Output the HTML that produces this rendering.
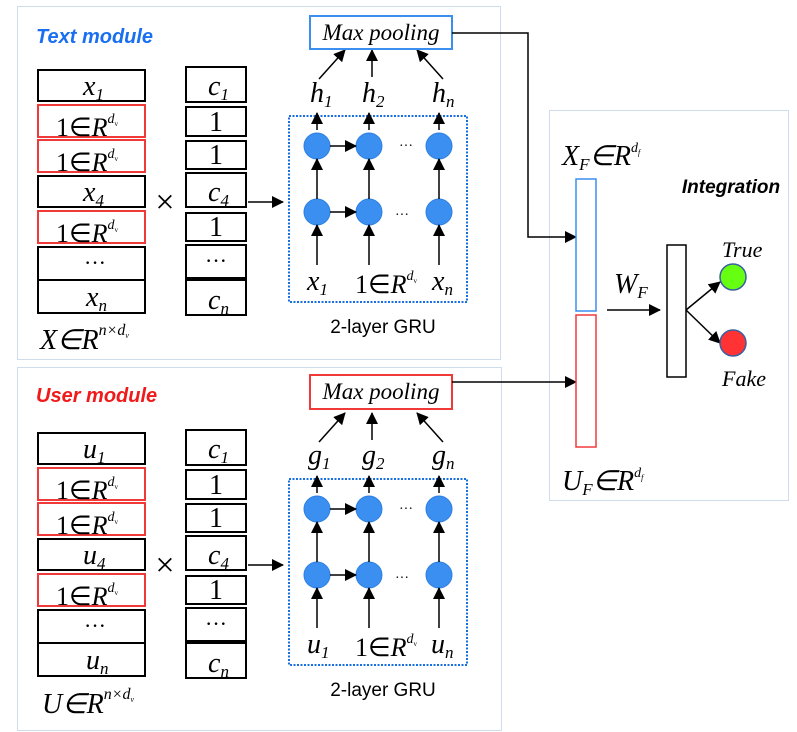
<!DOCTYPE html>
<html><head><meta charset="utf-8"><style>
html,body{margin:0;padding:0;background:#fff;}
svg{display:block;}
.m{font-family:"Liberation Serif",serif;font-style:italic;fill:#000;}
.n{font-family:"Liberation Serif",serif;fill:#000;}
.s{font-family:"Liberation Sans",sans-serif;}
</style></head><body>
<svg width="797" height="732" viewBox="0 0 797 732" xmlns="http://www.w3.org/2000/svg">
<defs>
<marker id="a" markerWidth="12" markerHeight="12" refX="11" refY="6" orient="auto" markerUnits="userSpaceOnUse"><path d="M0,0 L12,6 L0,12 z" fill="#000"/></marker>
<g id="gru">
  <rect x="289" y="116" width="178" height="186" fill="none" stroke="#1a6fe0" stroke-width="2" stroke-dasharray="2,1.5"/>
  <g fill="#3a8ff0" stroke="#2d7fe0">
    <circle cx="317" cy="146" r="13"/><circle cx="369" cy="146" r="13"/><circle cx="439" cy="146" r="13"/>
    <circle cx="317" cy="212" r="13"/><circle cx="369" cy="212" r="13"/><circle cx="439" cy="212" r="13"/>
  </g>
  <g stroke="#000" stroke-width="1.5" marker-end="url(#a)">
    <line x1="330" y1="146" x2="356" y2="146"/><line x1="330" y1="212" x2="356" y2="212"/>
    <line x1="317" y1="199" x2="317" y2="159"/><line x1="369" y1="199" x2="369" y2="159"/><line x1="439" y1="199" x2="439" y2="159"/>
    <line x1="317" y1="265" x2="317" y2="225"/><line x1="369" y1="265" x2="369" y2="225"/><line x1="439" y1="265" x2="439" y2="225"/>
    <line x1="317" y1="130" x2="317" y2="113"/><line x1="369" y1="130" x2="369" y2="113"/><line x1="439" y1="130" x2="439" y2="113"/>
    <line x1="319" y1="79" x2="345" y2="50"/><line x1="372" y1="77" x2="372" y2="50"/><line x1="443" y1="79" x2="417" y2="50"/>
    <line x1="248" y1="202" x2="283" y2="202"/>
  </g>
  <text x="406" y="150" class="n" font-size="14" text-anchor="middle">···</text>
  <text x="402" y="219" class="n" font-size="14" text-anchor="middle">···</text>
  <text x="383" y="333" class="s" font-size="19" text-anchor="middle" fill="#000">2-layer GRU</text>
  <text x="386" y="293" class="n" font-size="26" text-anchor="middle">1∈<tspan class="m">R</tspan><tspan class="m" font-size="14" dy="-13">d</tspan><tspan font-size="7" dy="3">v</tspan></text>
  <g stroke="#000" stroke-width="2" fill="#fff">
    <rect x="38" y="70" width="107" height="31"/>
    <rect x="38" y="176" width="107" height="31"/>
    <rect x="38" y="247" width="107" height="33"/>
    <rect x="38" y="280" width="107" height="33"/>
    <rect x="186" y="67" width="60" height="35"/>
    <rect x="186" y="107" width="60" height="29"/>
    <rect x="186" y="141" width="60" height="28"/>
    <rect x="186" y="173" width="60" height="34"/>
    <rect x="186" y="213" width="60" height="28"/>
    <rect x="186" y="245" width="60" height="33"/>
    <rect x="186" y="280" width="60" height="35"/>
  </g>
  <g stroke="#f03a3a" stroke-width="2" fill="#fff">
    <rect x="38" y="105" width="107" height="32"/>
    <rect x="38" y="140" width="107" height="32"/>
    <rect x="38" y="211" width="107" height="32"/>
  </g>
  <g class="n" font-size="26">
    <text x="56" y="136">1∈<tspan class="m">R</tspan><tspan class="m" font-size="14" dy="-13">d</tspan><tspan font-size="7" dy="3">v</tspan></text>
    <text x="56" y="171">1∈<tspan class="m">R</tspan><tspan class="m" font-size="14" dy="-13">d</tspan><tspan font-size="7" dy="3">v</tspan></text>
    <text x="56" y="242">1∈<tspan class="m">R</tspan><tspan class="m" font-size="14" dy="-13">d</tspan><tspan font-size="7" dy="3">v</tspan></text>
    <text x="95" y="270" text-anchor="middle" font-size="22">···</text>
    <text x="216" y="131" text-anchor="middle" font-size="28">1</text>
    <text x="216" y="164" text-anchor="middle" font-size="28">1</text>
    <text x="216" y="236" text-anchor="middle" font-size="28">1</text>
    <text x="216" y="268" text-anchor="middle" font-size="22">···</text>
    <text x="165" y="213" text-anchor="middle" font-size="34">×</text>
  </g>
  <g class="m" font-size="28">
    <text x="208" y="95">c<tspan class="n" font-size="17" dy="5">1</tspan></text>
    <text x="208" y="201">c<tspan class="n" font-size="17" dy="5">4</tspan></text>
    <text x="208" y="309">c<tspan font-size="17" dy="5">n</tspan></text>
  </g>
</g>
</defs>

<rect x="17.5" y="6.5" width="483" height="353" fill="none" stroke="#cfdcec" stroke-width="1"/>
<rect x="17.5" y="367.5" width="484" height="363" fill="none" stroke="#cfdcec" stroke-width="1"/>
<rect x="549.5" y="110.5" width="239" height="390" fill="none" stroke="#cfdcec" stroke-width="1"/>

<use href="#gru"/>
<text x="36" y="43" class="s" font-size="20" font-weight="bold" font-style="italic" fill="#1a6ff0">Text module</text>
<rect x="310" y="16" width="142" height="33" fill="#fff" stroke="#3a8ff0" stroke-width="2"/>
<text x="381" y="40" class="m" font-size="23" text-anchor="middle">Max pooling</text>
<g class="m" font-size="28">
  <text x="83" y="95">x<tspan class="n" font-size="17" dy="5">1</tspan></text>
  <text x="83" y="201">x<tspan class="n" font-size="17" dy="5">4</tspan></text>
  <text x="86" y="306">x<tspan font-size="17" dy="5">n</tspan></text>
  <text x="307" y="290">x<tspan class="n" font-size="17" dy="5">1</tspan></text>
  <text x="432" y="290">x<tspan font-size="17" dy="5">n</tspan></text>
  <text x="310" y="102">h<tspan class="n" font-size="17" dy="5">1</tspan></text>
  <text x="362" y="102">h<tspan class="n" font-size="17" dy="5">2</tspan></text>
  <text x="432" y="102">h<tspan font-size="17" dy="5">n</tspan></text>
  <text x="40" y="349">X<tspan class="n">∈</tspan>R<tspan font-size="16" dy="-14">n</tspan><tspan class="n" font-size="16">×</tspan><tspan font-size="16">d</tspan><tspan font-size="8" dy="3">v</tspan></text>
</g>

<use href="#gru" y="363"/>
<text x="36" y="402" class="s" font-size="20" font-weight="bold" font-style="italic" fill="#f01a1a">User module</text>
<rect x="310" y="375" width="142" height="34" fill="#fff" stroke="#f03a3a" stroke-width="2"/>
<text x="381" y="399" class="m" font-size="23" text-anchor="middle">Max pooling</text>
<g class="m" font-size="28">
  <text x="83" y="458">u<tspan class="n" font-size="17" dy="5">1</tspan></text>
  <text x="83" y="564">u<tspan class="n" font-size="17" dy="5">4</tspan></text>
  <text x="86" y="669">u<tspan font-size="17" dy="5">n</tspan></text>
  <text x="307" y="653">u<tspan class="n" font-size="17" dy="5">1</tspan></text>
  <text x="431" y="653">u<tspan font-size="17" dy="5">n</tspan></text>
  <text x="308" y="464">g<tspan class="n" font-size="17" dy="5">1</tspan></text>
  <text x="362" y="464">g<tspan class="n" font-size="17" dy="5">2</tspan></text>
  <text x="432" y="464">g<tspan font-size="17" dy="5">n</tspan></text>
  <text x="42" y="713">U<tspan class="n">∈</tspan>R<tspan font-size="16" dy="-14">n</tspan><tspan class="n" font-size="16">×</tspan><tspan font-size="16">d</tspan><tspan font-size="8" dy="3">v</tspan></text>
</g>

<g stroke="#000" stroke-width="1.5" fill="none">
  <polyline points="452,33 528,33 528,237 576,237" marker-end="url(#a)"/>
  <line x1="452" y1="382" x2="576" y2="382" marker-end="url(#a)"/>
  <line x1="607" y1="310" x2="660" y2="310" marker-end="url(#a)"/>
  <line x1="686" y1="310" x2="720" y2="282" marker-end="url(#a)"/>
  <line x1="686" y1="310" x2="720" y2="343" marker-end="url(#a)"/>
</g>

<rect x="576" y="179" width="20" height="132" fill="#fff" stroke="#3a8ff0" stroke-width="1.5"/>
<rect x="576" y="315" width="20" height="132" fill="#fff" stroke="#f03a3a" stroke-width="1.5"/>
<rect x="667" y="245" width="19" height="132" fill="#fff" stroke="#000" stroke-width="1.5"/>
<circle cx="733" cy="277" r="13" fill="#66ff11" stroke="#3a5fa0" stroke-width="1.5"/>
<circle cx="733" cy="343" r="13" fill="#ff3333" stroke="#3a5fa0" stroke-width="1.5"/>
<text x="731" y="193" class="s" font-size="19" font-weight="bold" font-style="italic" text-anchor="middle" fill="#000">Integration</text>
<g class="m" font-size="28">
  <text x="562" y="165">X<tspan font-size="17" dy="5">F</tspan><tspan class="n" dy="-5">∈</tspan>R<tspan font-size="14" dy="-13">d</tspan><tspan font-size="8" dy="3">f</tspan></text>
  <text x="562" y="490">U<tspan font-size="17" dy="5">F</tspan><tspan class="n" dy="-5">∈</tspan>R<tspan font-size="14" dy="-13">d</tspan><tspan font-size="8" dy="3">f</tspan></text>
  <text x="614" y="293">W<tspan font-size="17" dy="5">F</tspan></text>
  <text x="722" y="257" font-size="22">True</text>
  <text x="722" y="386" font-size="22">Fake</text>
</g>
</svg>
</body></html>
